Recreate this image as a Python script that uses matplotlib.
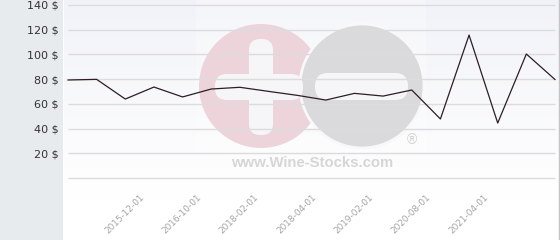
import numpy as np
import matplotlib
matplotlib.use("Agg")
import matplotlib.pyplot as plt
import matplotlib.transforms as mtransforms
from matplotlib.patches import Circle, FancyBboxPatch, Rectangle

# price per bottle, one point per listing
prices = [79.2, 79.7, 63.8, 73.5, 65.5, 71.9, 73.3, 70.0, 66.8,
          63.0, 68.4, 66.2, 71.1, 47.7, 115.5, 44.4, 100.2, 79.6]
tick_idx = [2, 4, 6, 8, 10, 12, 14]
tick_labels = ["2015-12-01", "2016-10-01", "2018-02-01", "2018-04-01",
               "2019-02-01", "2020-08-01", "2021-04-01"]
y_ticks = [20, 40, 60, 80, 100, 120, 140]

W, H = 560, 240
fig = plt.figure(figsize=(W / 100, H / 100), dpi=100)

# background layer in pixel coords (y down)
bg = fig.add_axes([0, 0, 1, 1])
bg.set_xlim(0, W)
bg.set_ylim(H, 0)
bg.axis("off")
bg.add_patch(Rectangle((0, 0), 63, H, color="#e7ebee", lw=0))
grad = np.linspace(0, 1, 200).reshape(-1, 1)
top = np.array([0.948, 0.952, 0.972])
cols = top + (1 - top) * np.clip(grad * 1.2, 0, 1)
bg.imshow(cols.reshape(-1, 1, 3), extent=(64, 559, 240, 0), aspect="auto", zorder=1)
bg.add_patch(Rectangle((196, 0), 230, 173, color="white", alpha=0.3, lw=0, zorder=2))
bg.plot([559, 559], [0, H], color="#c4c4c4", lw=1, zorder=3)

# watermark
bg.add_patch(Circle((261, 86), 62, color="#edd4db", lw=0, zorder=3))
bg.add_patch(Circle((362, 86), 62, facecolor="#dadadc", edgecolor="#f8f8fb", lw=2, zorder=4))
wm_white = "#f6f6f9"
bg.add_patch(FancyBboxPatch((249, 39), 24, 96, boxstyle="round,pad=0,rounding_size=11",
                            color=wm_white, lw=0, zorder=5))
bg.add_patch(FancyBboxPatch((215, 74), 88, 26, boxstyle="round,pad=0,rounding_size=12",
                            color=wm_white, lw=0, zorder=5))
bg.add_patch(FancyBboxPatch((315, 73), 93, 27, boxstyle="round,pad=0,rounding_size=13",
                            color=wm_white, lw=0, zorder=5))
bg.text(312.5, 167, "www.Wine-Stocks.com", ha="center", va="baseline", fontsize=10.7,
        fontweight="bold", family="Liberation Sans", color="#d6d6d6", zorder=5)
bg.text(412, 140, "\u00ae", ha="center", va="center", fontsize=10,
        family="Liberation Sans", color="#d0d0d0", zorder=5)

# data layer
px = 28.65
ax = fig.add_axes([63 / W, 0, (559 - 63) / W, 1])
ax.patch.set_alpha(0)
ax.set_xlim(-5 / px, len(prices) - 1 + 4 / px)
ax.set_ylim(-50.1, 143.84)
for s in ax.spines.values():
    s.set_visible(False)

ax.hlines([0] + y_ticks, 0, len(prices) - 1, color="#dcdcdf", lw=1, zorder=1)
ax.plot(range(len(prices)), prices, color="#2e1c26", lw=0.9, zorder=3)

ax.set_yticks(y_ticks)
ax.set_yticklabels([f"{v} $" for v in y_ticks], fontsize=8, color="#333333")
ax.tick_params(axis="y", length=0, pad=3)
ax.set_xticks([])

trans = mtransforms.blended_transform_factory(ax.transData, ax.transAxes)
for i, lab in zip(tick_idx, tick_labels):
    ax.text(i + 0.5, 1 - 193 / H, lab, transform=trans, rotation=45,
            rotation_mode="anchor", ha="right", va="top", fontsize=6.4, color="#a4a4a4")

fig.savefig("out.png", dpi=100)
